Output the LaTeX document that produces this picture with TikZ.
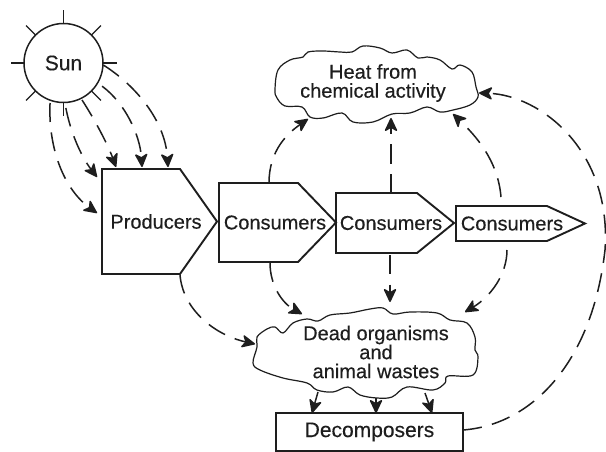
\documentclass[tikz,border=0pt]{standalone}
\usepackage{fontspec}
\setmainfont{Liberation Sans}[FakeBold=0.3]
\usetikzlibrary{calc,arrows.meta,shapes.geometric}
\definecolor{ink}{HTML}{1E1E1E}
\tikzset{
  outline/.style={draw=ink,line width=1.9pt,line join=miter},
  thinline/.style={draw=ink,line width=1.4pt},
  txt/.style={text=ink,font=\fontsize{20}{19}\selectfont,align=center},
  flow/.style={draw=ink,line width=1.5pt,dash pattern=on 19pt off 10.5pt,
    -{Stealth[length=15pt,width=14pt,inset=4pt,round]}},
  solidflow/.style={draw=ink,line width=1.5pt,
    -{Stealth[length=15pt,width=14pt,inset=4pt,round]}},
  ghost/.style={rectangle,inner sep=0pt,outer sep=0pt},
}
\newcommand{\pentagon}[8]{%
  \node[ghost,minimum width=#4pt,minimum height=#5pt,
        label={[txt,xshift=#7pt]center:#8}] (#1) at (#2,#3) {};
  \draw[outline] (#1.north west) -- ($(#1.north east)+(-#6,0)$) -- (#1.east)
     -- ($(#1.south east)+(-#6,0)$) -- (#1.south west) -- cycle;
}
\begin{document}
\begin{tikzpicture}[x=1pt,y=-1pt]
\useasboundingbox (0,0) rectangle (606,452);
\fill[white] (0,0) rectangle (606,452);

% Sun
\node[circle,draw=ink,line width=1.5pt,minimum size=79pt,inner sep=0pt,outer sep=0pt,
      txt,font=\fontsize{21}{24}\selectfont] (sun) at (63.5,63) {Sun};
\foreach \a in {0,45,...,315}
  \draw[thinline] (sun.\a) -- ($(sun)+(-\a:53)$);

% Trophic chain
\pentagon{prod}{159.5}{221.5}{115}{105}{37}{-3.5}{Producers}
\pentagon{cone}{277.5}{222.5}{117}{79}{38}{-2.5}{Consumers}
\pentagon{ctwo}{395}{223}{118}{60}{37}{-4}{Consumers}
\pentagon{cthree}{520.5}{223.5}{129}{35}{38}{-8.5}{Consumers}

% Clouds
\draw[thinline,line width=1.2pt] plot[smooth cycle,tension=0.6] coordinates {
 (275,90)(278,70)(290,60)(303,57)(308,52)(323,51)(340,52)(352,52)(363,46)(380,48)
 (392,53)(407,50)(418,58)(427,57)(440,60)(452,69)(460,65)(472,72)(476,87)(478,97)
 (470,105)(453,110)(440,112)(427,107)(410,113)(392,114)(373,122)(353,122)(342,113)
 (323,118)(310,117)(302,107)(285,106)(277,98)};
\node[ghost,txt,minimum width=206pt,minimum height=76pt] (heat) at (373,83)
  {Heat from\\chemical activity};

\draw[thinline,line width=1.2pt] plot[smooth cycle,tension=0.6] coordinates {
 (253,363)(257,347)(257,337)(267,329)(275,327)(283,333)(293,323)(307,319)(318,321)
 (330,315)(350,313)(370,309)(383,308)(393,314)(410,312)(437,313)(450,320)(467,323)
 (475,337)(475,350)(478,357)(473,375)(448,376)(445,383)(433,390)(407,387)(392,397)
 (377,398)(360,395)(348,387)(333,392)(317,390)(307,383)(283,378)(260,370)};
\node[ghost,txt,font=\fontsize{20}{19}\selectfont,minimum width=226pt,minimum height=90pt] (dead) at (376,352)
  {Dead organisms\\and\\animal wastes};

% Decomposers
\node[rectangle,outline,txt,font=\fontsize{21}{24}\selectfont,minimum width=187pt,minimum height=38pt,inner sep=0pt,outer sep=0pt]
  (dec) at (369.5,432) {Decomposers};

% Sun to producers
\draw[flow] ($(sun)+(3:40)$) .. controls (135,85) and (165,120) .. ([xshift=8.5pt,yshift=2pt]prod.north);
\draw[flow] ($(sun)+(31:45)$) .. controls (125,103) and (140,135) .. ([xshift=-17.5pt,yshift=2pt]prod.north);
\draw[flow] ($(sun)+(63.4:41.4)$) .. controls (95,120) and (108,145) .. ([xshift=-43.5pt,yshift=2pt]prod.north);
\draw[flow] ($(sun)+(87:45)$) .. controls (70,130) and (80,155) .. ([xshift=-5pt,yshift=44.5pt]prod.west);
\draw[flow] ($(sun)+(108.6:42.2)$) .. controls (48,150) and (65,190) .. ([xshift=-5pt,yshift=8.5pt]prod.west);

% To heat
\draw[flow] ([xshift=-8.5pt]cone.north) .. controls (269,150) and (288,133) .. ([xshift=-65pt,yshift=2pt]heat.south);
\draw[flow] ([xshift=-4pt]ctwo.north) -- ([xshift=18pt,yshift=3pt]heat.south);
\draw[flow] ([xshift=-19.5pt,yshift=9pt]cthree.north) .. controls (498,160) and (475,135) .. ([xshift=80pt,yshift=7pt]heat.south);

% To dead matter
\draw[flow] ([xshift=20.5pt,yshift=-1pt]prod.south) .. controls (183,310) and (215,335) .. ([xshift=-8pt,yshift=8pt]dead.west);
\draw[flow] ([xshift=-7.5pt,yshift=-1pt]cone.south) .. controls (270,285) and (282,303) .. ([xshift=-74pt,yshift=-7pt]dead.north);
\draw[flow] ([xshift=-5pt,yshift=-2pt]ctwo.south) -- ([xshift=14pt,yshift=5pt]dead.north);
\draw[flow] ([xshift=-13.5pt,yshift=-9pt]cthree.south) .. controls (507,275) and (490,297) .. ([xshift=89pt,yshift=-5pt]dead.north);

% Dead matter to decomposers
\draw[solidflow] ([xshift=-58pt,yshift=5pt]dead.south) -- ([xshift=-57.5pt]dec.north);
\draw[solidflow] ([yshift=-1pt]dead.south) -- ([xshift=6.5pt]dec.north);
\draw[solidflow] ([xshift=49pt,yshift=4pt]dead.south) -- ([xshift=62.5pt]dec.north);

% Decomposers to heat
\draw[flow] ([yshift=2pt]dec.east) .. controls (530,425) and (592,365) .. (605,250)
   .. controls (612,150) and (540,95) .. ([xshift=3pt,yshift=-10pt]heat.east);
\end{tikzpicture}
\end{document}
